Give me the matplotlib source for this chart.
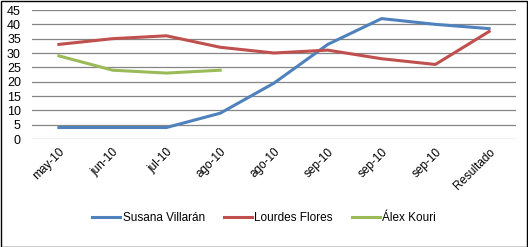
import matplotlib
matplotlib.use("Agg")
import matplotlib.pyplot as plt
from matplotlib.patches import Rectangle

# categories and poll values
labels = ["may-10", "jun-10", "jul-10", "ago-10", "ago-10", "sep-10", "sep-10", "sep-10", "Resultado"]
susana = [4, 4, 4, 9, 19.5, 33, 42, 40, 38.5]
lourdes = [33, 35, 36, 32, 30, 31, 28, 26, 37.5]
alex = [29, 24, 23, 24]
yticks = [0, 5, 10, 15, 20, 25, 30, 35, 40, 45]

plt.rcParams['font.family'] = ['Liberation Sans', 'DejaVu Sans']

fig = plt.figure(figsize=(5.28, 2.47), dpi=100)
ax = fig.add_axes([32 / 528, 108 / 247, 484 / 528, 129 / 247])

x = list(range(len(labels)))
ax.plot(x, susana, color="#4F81BD", lw=2.2, label="Susana Villarán", solid_joinstyle="round")
ax.plot(x, lourdes, color="#C0504D", lw=2.2, label="Lourdes Flores", solid_joinstyle="round")
ax.plot(x[:len(alex)], alex, color="#9BBB59", lw=2.2, label="Álex Kouri", solid_joinstyle="round")

ax.set_xlim(-0.5, len(labels) - 0.5)
ax.set_ylim(0, 45)
ax.set_yticks(yticks)
ax.set_xticks(x)
ax.set_xticklabels(labels, rotation=45, ha="right", rotation_mode="anchor", fontsize=8.5)
ax.tick_params(axis="y", labelsize=9, length=0, pad=8)
ax.tick_params(axis="x", length=0, pad=5)
ax.grid(axis="y", color="#868686", lw=0.9)
ax.set_axisbelow(True)
for s in ax.spines.values():
    s.set_visible(False)

fig.legend(loc="center", bbox_to_anchor=(0.5, 29 / 247), ncol=3, frameon=False,
           fontsize=8.5, handlelength=2.4, handletextpad=0.2, columnspacing=1.6)

# outer border
fig.patches.append(Rectangle((0.001, 0.002), 0.997, 0.995, transform=fig.transFigure,
                             fill=False, edgecolor="black", lw=1))

fig.savefig("out.png", dpi=100)
